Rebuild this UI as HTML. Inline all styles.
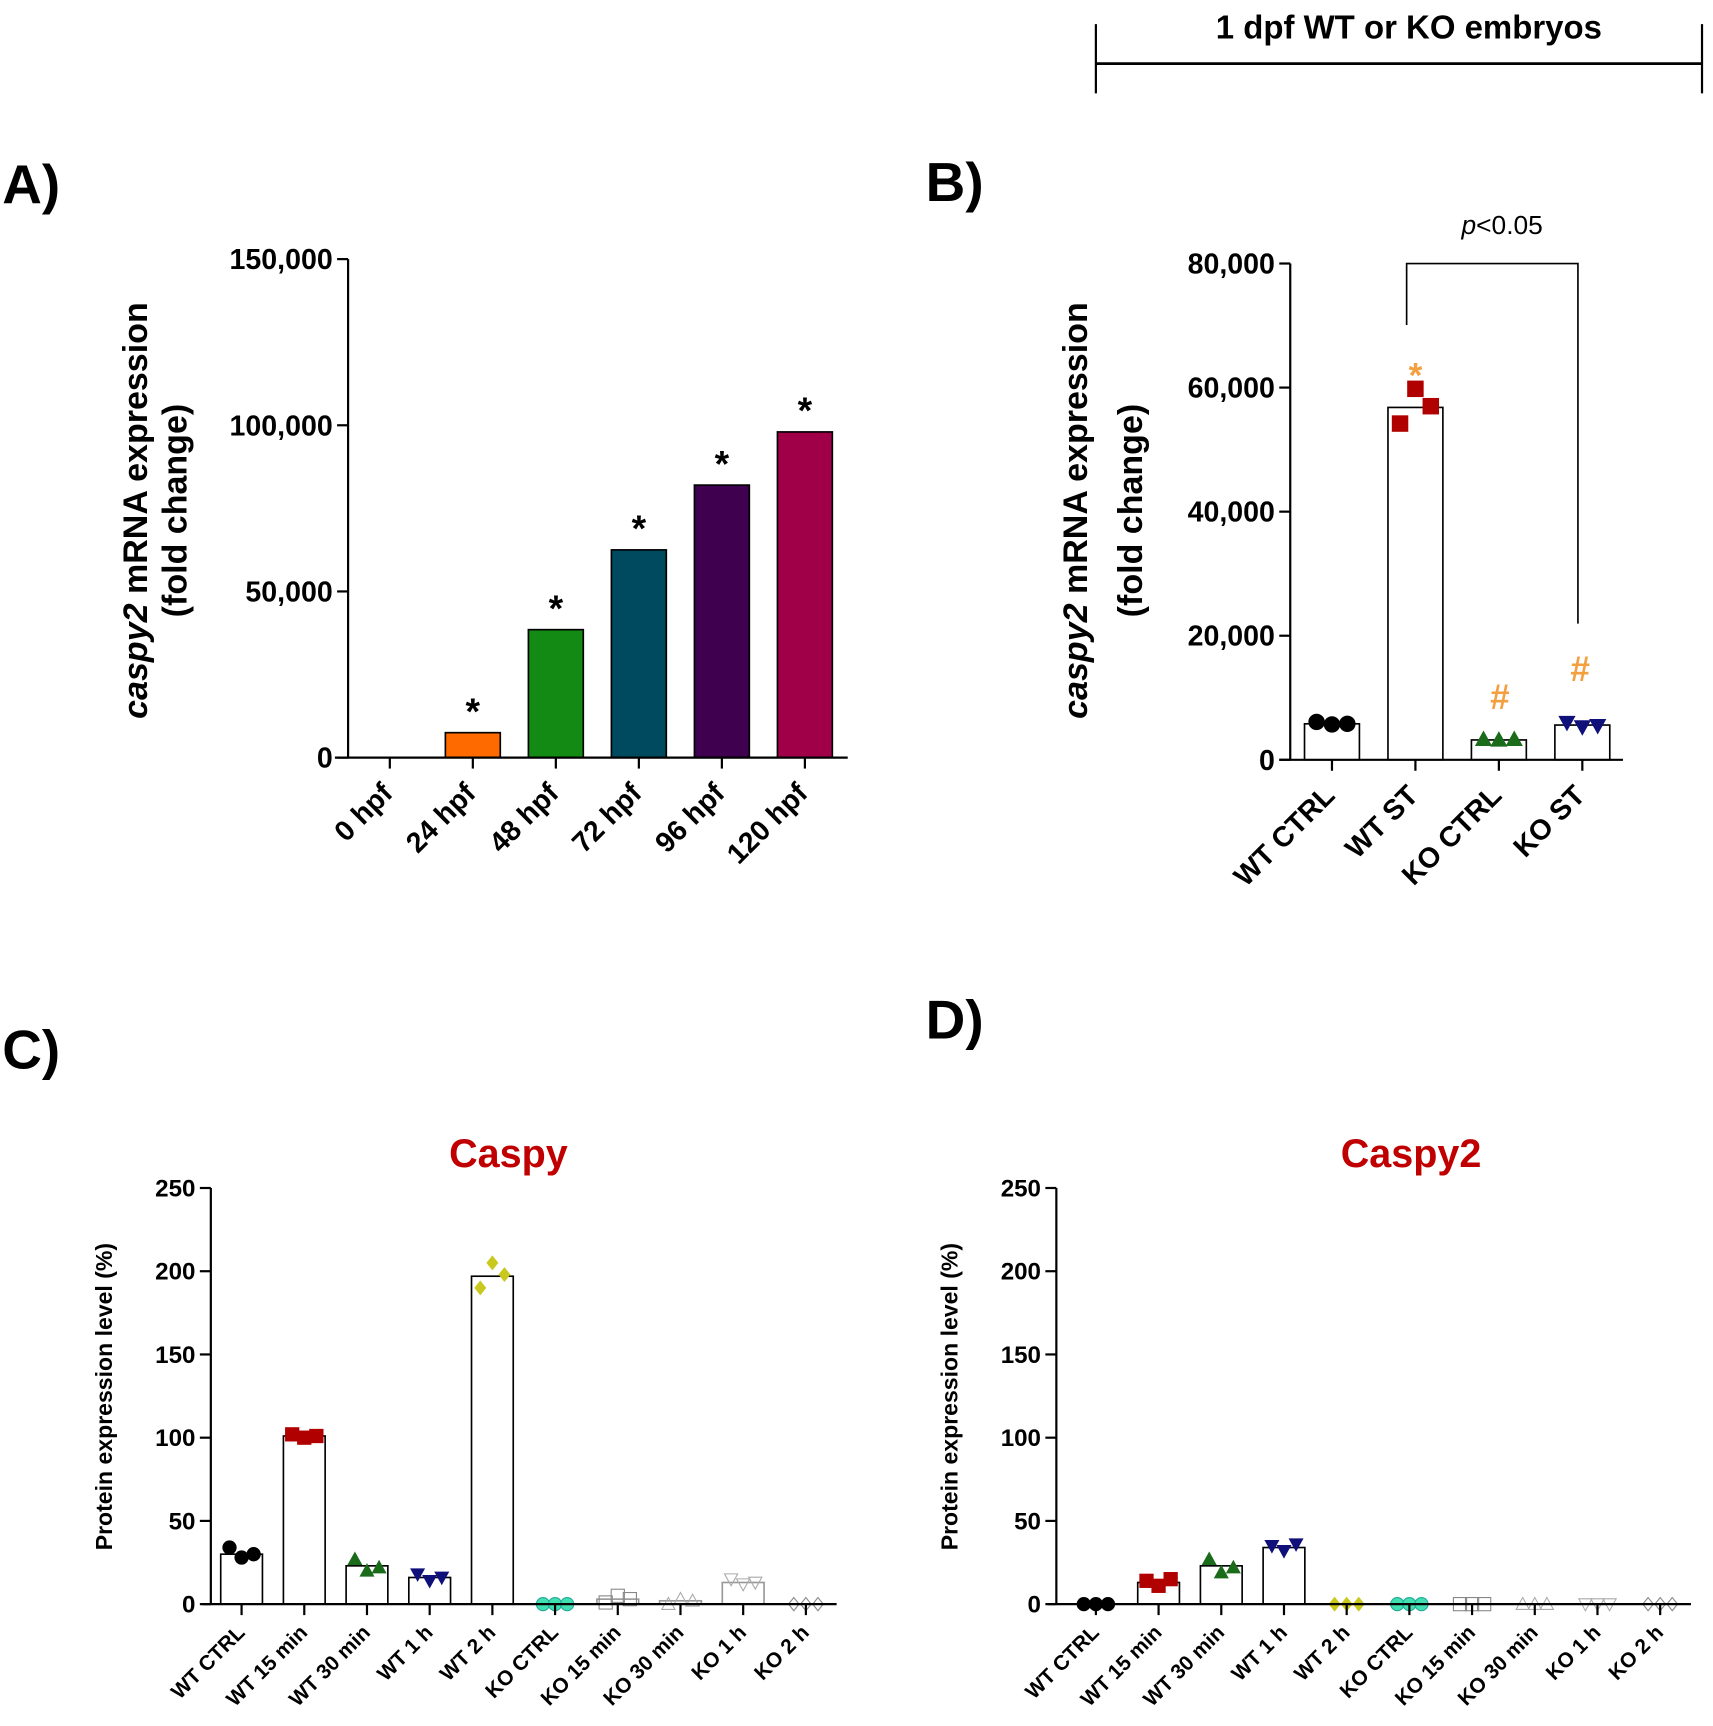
<!DOCTYPE html>
<html><head><meta charset="utf-8"><style>
html,body{margin:0;padding:0;background:#fff}
svg{display:block}
text{font-family:"Liberation Sans Narrow","Liberation Sans",sans-serif}
</style></head><body>
<svg id="fig" width="1713" height="1726" viewBox="0 0 1560 1572" preserveAspectRatio="none" xmlns="http://www.w3.org/2000/svg">
<g>
<text x="1283" y="35" font-size="30" font-weight="bold" text-anchor="middle">1 dpf WT or KO embryos</text>
<line x1="998" y1="58" x2="1550" y2="58" stroke="#000" stroke-width="2.5"/>
<line x1="998" y1="22" x2="998" y2="85" stroke="#000" stroke-width="2"/>
<line x1="1550" y1="22" x2="1550" y2="85" stroke="#000" stroke-width="2"/>
</g>
<text x="2" y="185" font-size="50" font-weight="bold">A)</text>
<text x="843" y="183" font-size="50" font-weight="bold">B)</text>
<text x="2" y="973" font-size="50" font-weight="bold">C)</text>
<text x="843" y="946" font-size="50" font-weight="bold">D)</text>
<g id="A"></g><g id="B"></g><g id="C"></g><g id="D"></g>
</svg>
<script>
const NS="http://www.w3.org/2000/svg";
function mk(p,tag,at,txt){const e=document.createElementNS(NS,tag);for(const k in at)e.setAttribute(k,at[k]);if(txt!==undefined)e.textContent=txt;p.appendChild(e);return e;}

// Panel A data
const aCats=["0 hpf","24 hpf","48 hpf","72 hpf","96 hpf","120 hpf"];
const aVals=[0,7500,38500,62500,82000,98000];
const aColors=["#fff","#ff6a00","#138a13","#004a60","#3f0050","#a00048"];
const aTicks=[0,50000,100000,150000];
const aTickLabels=["0","50,000","100,000","150,000"];
// Panel B data
const bCats=["WT CTRL","WT ST","KO CTRL","KO ST"];
const bMeans=[5800,56800,3200,5600];
const bPoints=[[6100,5700,5800],[54200,59800,57000],[3300,3200,3300],[6000,5300,5500]];
const bTicks=[0,20000,40000,60000,80000];
const bTickLabels=["0","20,000","40,000","60,000","80,000"];
// Panel C/D data
const cdCats=["WT CTRL","WT 15 min","WT 30 min","WT 1 h","WT 2 h","KO CTRL","KO 15 min","KO 30 min","KO 1 h","KO 2 h"];
const cMeans=[30,101,23,16,197,0,3,2,13,0];
const cPoints=[[34,28,30],[102,100,101],[27,20,22],[18,14,16],[190,205,198],[0,0,0],[1,5,3],[0,3,2],[15,12,13],[0,0,0]];
const dMeans=[0,13,23,34,0,0,0,0,0,0];
const dPoints=[[0,0,0],[14,11,15],[27,19,22],[35,32,36],[0,0,0],[0,0,0],[0,0,0],[0,0,0],[0,0,0],[0,0,0]];
const cdTicks=[0,50,100,150,200,250];

function axisY(g,x,y0,y1,max,ticks,labels,fs){
  const sy=v=>y0-(y0-y1)*v/max;
  const ax=mk(g,"line",{x1:x,y1:y0,x2:x,y2:y1,stroke:"#000","stroke-width":2});
  
  
  ticks.forEach((t,i)=>{
    mk(g,"line",{x1:x-10,y1:sy(t),x2:x,y2:sy(t),stroke:"#000","stroke-width":2});
    const tl=mk(g,"text",{x:x-14,y:sy(t)+fs*0.35,"font-size":fs,"font-weight":"bold","text-anchor":"end"},labels[i]);
    
    
  });
  return sy;
}
function xLabels(g,xs,cats,y0,fs){
  xs.forEach((x,i)=>{
    mk(g,"line",{x1:x,y1:y0,x2:x,y2:y0+10,stroke:"#000","stroke-width":2});
    const t=mk(g,"text",{transform:`translate(${x+4},${y0+fs+8}) rotate(-45)`,"font-size":fs,"font-weight":"bold","text-anchor":"end"},cats[i]);
    
    
  });
}
function marker(g,kind,x,y,r,fill,stroke){
  let e;
  if(kind==="circle")e=mk(g,"circle",{cx:x,cy:y,r:r,fill:fill,stroke:stroke});
  else if(kind==="square")e=mk(g,"rect",{x:x-r,y:y-r,width:2*r,height:2*r,fill:fill,stroke:stroke});
  else if(kind==="up")e=mk(g,"polygon",{points:`${x},${y-r} ${x-r},${y+r*0.8} ${x+r},${y+r*0.8}`,fill:fill,stroke:stroke});
  else if(kind==="down")e=mk(g,"polygon",{points:`${x},${y+r} ${x-r},${y-r*0.8} ${x+r},${y-r*0.8}`,fill:fill,stroke:stroke});
  else e=mk(g,"polygon",{points:`${x},${y-r} ${x+r*0.8},${y} ${x},${y+r} ${x-r*0.8},${y}`,fill:fill,stroke:stroke});
  
  
}

// ---- Panel A
(function(){
  const g=document.getElementById("A");
  const y0=690,y1=236,x=317;
  const sy=axisY(g,x,y0,y1,150000,aTicks,aTickLabels,26);
  const xs=aCats.map((c,i)=>355+i*75.6);
  aVals.forEach((v,i)=>{
    if(v>0){
      const r=mk(g,"rect",{x:xs[i]-25,y:sy(v),width:50,height:y0-sy(v),fill:aColors[i],stroke:"#000","stroke-width":1.5});
      
      
      const s=mk(g,"text",{x:xs[i],y:sy(v)-8,"font-size":34,"font-weight":"bold","text-anchor":"middle"},"*");
      
      
    }
  });
  mk(g,"line",{x1:305,y1:y0,x2:772,y2:y0,stroke:"#000","stroke-width":2});
  xLabels(g,xs,aCats,y0,26);
  const t=mk(g,"text",{transform:"translate(134,465) rotate(-90)","font-size":31,"font-weight":"bold","text-anchor":"middle","font-family":"Liberation Sans"});
  
  
  mk(t,"tspan",{"font-style":"italic"},"caspy2");mk(t,"tspan",{}," mRNA expression");
  mk(g,"text",{transform:"translate(170,465) rotate(-90)","font-size":31,"font-weight":"bold","text-anchor":"middle","font-family":"Liberation Sans"},"(fold change)");
})();

// ---- Panel B
(function(){
  const g=document.getElementById("B");
  const y0=692,y1=240,x=1175;
  const sy=axisY(g,x,y0,y1,80000,bTicks,bTickLabels,26);
  const xs=bCats.map((c,i)=>1213+i*76);
  const kinds=["circle","square","up","down"],cols=["#000","#b00000","#1a6b1a","#10107a"];
  bMeans.forEach((v,i)=>{
    const r=mk(g,"rect",{x:xs[i]-25,y:sy(v),width:50,height:y0-sy(v),fill:"#fff",stroke:"#000","stroke-width":1.5});
    
    
    bPoints[i].forEach((p,j)=>marker(g,kinds[i],xs[i]+(j-1)*14,sy(p),7,cols[i],cols[i]));
  });
  mk(g,"line",{x1:1165,y1:y0,x2:1478,y2:y0,stroke:"#000","stroke-width":2});
  xLabels(g,xs,bCats,y0,26);
  mk(g,"text",{x:xs[1],y:sy(bMeans[1])-18,"font-size":32,"font-weight":"bold",fill:"#f4a040","text-anchor":"middle"},"*");
  mk(g,"text",{x:xs[2]+1,y:sy(bMeans[2])-28,"font-size":32,"font-weight":"bold",fill:"#f4a040","text-anchor":"middle"},"#");
  mk(g,"text",{x:xs[3]-2,y:sy(bMeans[3])-40,"font-size":32,"font-weight":"bold",fill:"#f4a040","text-anchor":"middle"},"#");
  const br=mk(g,"polyline",{points:`1281,296 1281,240 1437,240 1437,568`,fill:"none",stroke:"#000","stroke-width":1.5});
  
  
  const p=mk(g,"text",{x:1368,y:213,"font-size":24,"text-anchor":"middle"});
  mk(p,"tspan",{"font-style":"italic"},"p");mk(p,"tspan",{},"<0.05");
  mk(g,"text",{transform:"translate(990,465) rotate(-90)","font-size":31,"font-weight":"bold","text-anchor":"middle","font-family":"Liberation Sans"}).innerHTML='<tspan font-style="italic">caspy2</tspan> mRNA expression';
  mk(g,"text",{transform:"translate(1040,465) rotate(-90)","font-size":31,"font-weight":"bold","text-anchor":"middle","font-family":"Liberation Sans"},"(fold change)");
})();

// ---- Panels C & D
function cd(id,xAxis,xStart,means,points,title,titleX){
  const g=document.getElementById(id);
  const y0=1461,y1=1082;
  const sy=axisY(g,xAxis,y0,y1,250,cdTicks,cdTicks.map(String),22);
  const xs=cdCats.map((c,i)=>xStart+i*57.1);
  const kinds=["circle","square","up","down","diamond","circle","square","up","down","diamond"];
  const cols=["#000","#b00000","#1a6b1a","#10107a","#c8c81e","#40e0b0","#888","#aaa","#aaa","#888"];
  const filled=[1,1,1,1,1,1,0,0,0,0];
  means.forEach((v,i)=>{
    const r=mk(g,"rect",{x:xs[i]-19,y:sy(v),width:38,height:y0-sy(v),fill:"#fff",stroke:i>5?"#999":"#000","stroke-width":1.5});
    
    
    points[i].forEach((p,j)=>marker(g,kinds[i],xs[i]+(j-1)*11,sy(p),6,filled[i]?cols[i]:"none",filled[i]?(i===5?"#2a9":cols[i]):cols[i]));
  });
  mk(g,"line",{x1:xAxis-8,y1:y0,x2:xs[9]+28,y2:y0,stroke:"#000","stroke-width":2});
  xLabels(g,xs,cdCats,y0,19);
  const t=mk(g,"text",{x:titleX,y:1063,"font-size":36,"font-weight":"bold",fill:"#c00000","text-anchor":"middle"},title);
  
  
  mk(g,"text",{transform:`translate(${xAxis-90},1272) rotate(-90)`,"font-size":21,"font-weight":"bold","text-anchor":"middle","font-family":"Liberation Sans"},"Protein expression level (%)");
}
cd("C",192,220,cMeans,cPoints,"Caspy",463);
cd("D",962,998,dMeans,dPoints,"Caspy2",1285);
</script>
</body></html>
